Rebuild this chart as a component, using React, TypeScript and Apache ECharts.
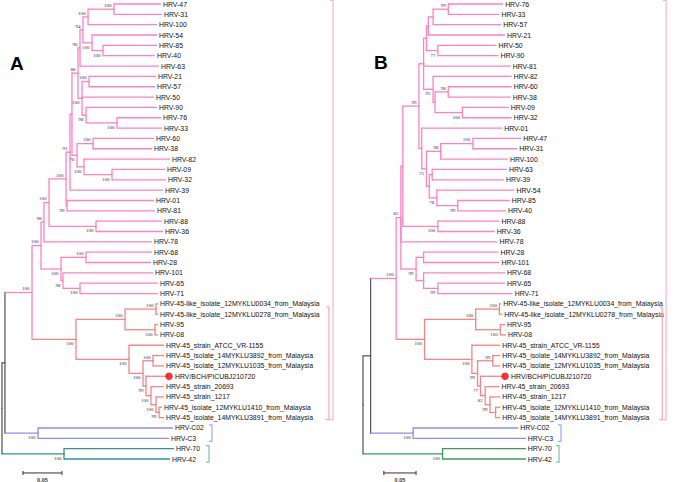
import React, { useEffect, useRef } from "react";
import * as echarts from "echarts";

// [node id, parent id, distance from root (substitutions/site), bootstrap support, clade group]
type NodeRow = [string, string, number, number?, string?];

const L0034 = "HRV-45-like_isolate_12MYKLU0034_from_Malaysia";
const L0278 = "HRV-45-like_isolate_12MYKLU0278_from_Malaysia";
const LATCC = "HRV-45_strain_ATCC_VR-1155";
const L3892 = "HRV-45_isolate_14MYKLU3892_from_Malaysia";
const L1035 = "HRV-45_isolate_12MYKLU1035_from_Malaysia";
const LBCH = "HRV/BCH/PICUBJ210720";
const L20693 = "HRV-45_strain_20693";
const L1217 = "HRV-45_strain_1217";
const L1410 = "HRV-45_isolate_12MYKLU1410_from_Malaysia";
const L3891 = "HRV-45_isolate_14MYKLU3891_from_Malaysia";

const treeA: NodeRow[] = [
  ["#root", "", 0, 0, "r"],
  ["#n5", "#root", 0.0038, 0, "r"],
  ["#P0", "#n5", 0.0385, 100, "p"],
  ["#q", "#P0", 0.05, 100],
  ["#p", "#q", 0.0538, 98],
  ["#k", "#p", 0.0603, 100],
  ["#o", "#k", 0.0821, 100],
  ["#n", "#o", 0.0872, 91],
  ["#m", "#n", 0.0897, 0],
  ["#g", "#m", 0.0974, 88],
  ["#d", "#g", 0.1, 96],
  ["#c", "#d", 0.1038, 94],
  ["#a", "#c", 0.1103, 100],
  ["#4731", "#a", 0.1436, 100],
  ["HRV-47", "#4731", 0.2038],
  ["HRV-31", "#4731", 0.2051],
  ["HRV-100", "#a", 0.1987],
  ["#b", "#c", 0.1154, 100],
  ["HRV-54", "#b", 0.1987],
  ["#8540", "#b", 0.1295, 100],
  ["HRV-85", "#8540", 0.1987],
  ["HRV-40", "#8540", 0.1962],
  ["HRV-63", "#d", 0.2013],
  ["#f", "#g", 0.1026, 100],
  ["#2157", "#f", 0.1115, 100],
  ["HRV-21", "#2157", 0.1974],
  ["HRV-57", "#2157", 0.1962],
  ["HRV-50", "#f", 0.1949],
  ["#e", "#f", 0.1077, 98],
  ["HRV-90", "#e", 0.1987],
  ["#7633", "#e", 0.1474, 100],
  ["HRV-76", "#7633", 0.2038],
  ["HRV-33", "#7633", 0.2051],
  ["#h", "#m", 0.0962, 76],
  ["#6038", "#h", 0.1167, 100],
  ["HRV-60", "#6038", 0.1949],
  ["HRV-38", "#6038", 0.1923],
  ["#i", "#h", 0.1051, 100],
  ["HRV-82", "#i", 0.2154],
  ["#0932", "#i", 0.141, 100],
  ["HRV-09", "#0932", 0.209],
  ["HRV-32", "#0932", 0.2103],
  ["HRV-39", "#n", 0.2064],
  ["#0181", "#o", 0.0833, 99],
  ["HRV-01", "#0181", 0.1949],
  ["HRV-81", "#0181", 0.1962],
  ["#8836", "#k", 0.1205, 100],
  ["HRV-88", "#8836", 0.2051],
  ["HRV-36", "#8836", 0.2064],
  ["HRV-78", "#p", 0.1923],
  ["#t", "#q", 0.0756, 100],
  ["#6828", "#t", 0.1077, 100],
  ["HRV-68", "#6828", 0.1923],
  ["HRV-28", "#6828", 0.191],
  ["#s", "#t", 0.0782, 98],
  ["HRV-101", "#s", 0.1936],
  ["#6571", "#s", 0.1, 100],
  ["HRV-65", "#6571", 0.2],
  ["HRV-71", "#6571", 0.2],
  ["#x", "#P0", 0.0949, 100, "s"],
  ["#u", "#x", 0.1577, 100],
  ["#0034", "#u", 0.1974, 100],
  [L0034, "#0034", 0.2],
  [L0278, "#0034", 0.2],
  ["#9508", "#u", 0.1962, 100],
  ["HRV-95", "#9508", 0.2],
  ["HRV-08", "#9508", 0.2],
  ["#v", "#x", 0.1628, 100],
  [LATCC, "#v", 0.2077],
  ["#w5", "#v", 0.1808, 100],
  ["#3892", "#w5", 0.1936, 100],
  [L3892, "#3892", 0.2077],
  [L1035, "#3892", 0.2077],
  ["#w4", "#w5", 0.1846, 99],
  [LBCH, "#w4", 0.2141],
  ["#w3", "#w4", 0.191, 100],
  [L20693, "#w3", 0.2077],
  ["#w2", "#w3", 0.1974, 100],
  [L1217, "#w2", 0.2077],
  ["#w1", "#w2", 0.2013, 99],
  [L1410, "#w1", 0.2051],
  [L3891, "#w1", 0.2077],
  ["#C", "#n5", 0.0462, 100, "b"],
  ["HRV-C02", "#C", 0.2192],
  ["HRV-C3", "#C", 0.2141],
  ["#7042", "#root", 0.0795, 100, "t"],
  ["HRV-70", "#7042", 0.2205],
  ["HRV-42", "#7042", 0.2154],
];

const treeB: NodeRow[] = [
  ["#root", "", 0, 0, "r"],
  ["#n5", "#root", 0.0118, 0, "r"],
  ["#P0", "#n5", 0.0515, 100, "p"],
  ["#B8", "#P0", 0.0588, 82],
  ["#B7", "#B8", 0.0618, 0],
  ["#B5", "#B7", 0.0868, 99],
  ["#B2", "#B5", 0.0941, 0],
  ["#B1", "#B2", 0.0985, 0],
  ["#B1a", "#B1", 0.1015, 0],
  ["#763357", "#B1a", 0.1088, 0],
  ["#7633", "#763357", 0.1324, 99],
  ["HRV-76", "#7633", 0.2176],
  ["HRV-33", "#7633", 0.2118],
  ["HRV-57", "#763357", 0.2147],
  ["HRV-21", "#B1a", 0.2206],
  ["#5090", "#B1", 0.1162, 77],
  ["HRV-50", "#5090", 0.2074],
  ["HRV-90", "#5090", 0.2103],
  ["HRV-81", "#B2", 0.2294],
  ["#B3", "#B2", 0.1088, 93],
  ["HRV-82", "#B3", 0.2309],
  ["#B4", "#B3", 0.1118, 0],
  ["#6038", "#B4", 0.1324, 98],
  ["HRV-60", "#6038", 0.2309],
  ["HRV-38", "#6038", 0.2294],
  ["#0932", "#B4", 0.1544, 100],
  ["HRV-09", "#0932", 0.2265],
  ["HRV-32", "#0932", 0.2309],
  ["#B6", "#B5", 0.0912, 0],
  ["HRV-01", "#B6", 0.2162],
  ["#75", "#B6", 0.0985, 75],
  ["#47311", "#75", 0.1206, 98],
  ["#4731", "#47311", 0.1706, 100],
  ["HRV-47", "#4731", 0.2456],
  ["HRV-31", "#4731", 0.2397],
  ["HRV-100", "#47311", 0.225],
  ["#6354", "#75", 0.1029, 0],
  ["#6339", "#6354", 0.1074, 0],
  ["HRV-63", "#6339", 0.2235],
  ["HRV-39", "#6339", 0.2191],
  ["#548540", "#6354", 0.1147, 78],
  ["HRV-54", "#548540", 0.2353],
  ["#8540", "#548540", 0.1471, 99],
  ["HRV-85", "#8540", 0.2279],
  ["HRV-40", "#8540", 0.2221],
  ["#8836", "#B7", 0.1162, 100],
  ["HRV-88", "#8836", 0.2118],
  ["HRV-36", "#8836", 0.2044],
  ["HRV-78", "#B8", 0.2088],
  ["#low", "#B8", 0.0824, 99],
  ["#28101", "#low", 0.0941, 0],
  ["HRV-28", "#28101", 0.2103],
  ["HRV-101", "#28101", 0.2118],
  ["#686571", "#low", 0.0941, 0],
  ["HRV-68", "#686571", 0.2206],
  ["#6571", "#686571", 0.1162, 99],
  ["HRV-65", "#6571", 0.2206],
  ["HRV-71", "#6571", 0.2324],
  ["#x", "#P0", 0.0956, 100, "s"],
  ["#u", "#x", 0.175, 100],
  ["#0034", "#u", 0.2118, 100],
  [L0034, "#0034", 0.2147],
  [L0278, "#0034", 0.2162],
  ["#9508", "#u", 0.2132, 100],
  ["HRV-95", "#9508", 0.2206],
  ["HRV-08", "#9508", 0.2221],
  ["#v", "#x", 0.1691, 100],
  [LATCC, "#v", 0.2132],
  ["#w5", "#v", 0.1779, 99],
  ["#3892", "#w5", 0.2015, 99],
  [L3892, "#3892", 0.2132],
  [L1035, "#3892", 0.2132],
  ["#w4", "#w5", 0.1824, 77],
  [LBCH, "#w4", 0.2206],
  ["#w3", "#w4", 0.1897, 82],
  [L20693, "#w3", 0.2118],
  ["#w2", "#w3", 0.1971, 99],
  [L1217, "#w2", 0.2132],
  ["#w1", "#w2", 0.2059, 0],
  [L1410, "#w1", 0.2132],
  [L3891, "#w1", 0.2132],
  ["#C", "#n5", 0.0779, 100, "b"],
  ["HRV-C02", "#C", 0.2412],
  ["HRV-C3", "#C", 0.2529],
  ["#7042", "#root", 0.1235, 100, "g"],
  ["HRV-70", "#7042", 0.2529],
  ["HRV-42", "#7042", 0.2529],
];

const highlightLeaf = LBCH;
const scaleBarLength = 0.05;
const scaleBarLabel = "0.05";
const panelLetters = ["A", "B"];

// clade brackets: [group, first row, last row]
const bracketRows: [string, number, number][] = [
  ["p", -0.35, 40.2],
  ["s", 29.3, 40.2],
  ["b", 40.7, 42.3],
  ["t", 42.7, 44.3],
];

// ---------- styling / layout ----------
const COLORS: Record<string, string> = {
  r: "#5c5c5c",
  p: "#ff82c4",
  s: "#f38686",
  b: "#8c8cf3",
  t: "#339494",
  g: "#389a5b",
};
const BRACKET_COLORS: Record<string, string> = {
  p: "#f9b5d8",
  s: "#f5a8a8",
  b: "#a6a6f5",
  t: "#7cc0c0",
  g: "#80c69a",
};

type TNode = {
  id: string;
  parent: string;
  depth: number;
  support: number;
  group: string;
  y: number;
  leaf: boolean;
  kids: string[];
};

function buildTree(rows: NodeRow[]) {
  const info = new Map<string, TNode>();
  const order: string[] = [];
  rows.forEach(([id, parent, depth, support, group]) => {
    const g = group ?? (parent ? info.get(parent)!.group : "r");
    info.set(id, { id, parent, depth, support: support ?? 0, group: g, y: 0, leaf: true, kids: [] });
    if (parent) {
      const p = info.get(parent)!;
      p.leaf = false;
      p.kids.push(id);
    }
    order.push(id);
  });
  let row = 0;
  order.forEach((id) => {
    const n = info.get(id)!;
    if (n.leaf) n.y = row++;
  });
  for (let i = order.length - 1; i >= 0; i--) {
    const n = info.get(order[i])!;
    if (!n.leaf) {
      const f = info.get(n.kids[0])!;
      const l = info.get(n.kids[n.kids.length - 1])!;
      n.y = (f.y + l.y) / 2;
    }
  }
  const edges: { px: number; py: number; cx: number; cy: number; vg: string; hg: string }[] = [];
  const leaves: TNode[] = [];
  const supports: { x: number; y: number; v: number; upper: boolean }[] = [];
  order.forEach((id) => {
    const n = info.get(id)!;
    if (n.parent) {
      const p = info.get(n.parent)!;
      edges.push({ px: p.depth, py: p.y, cx: n.depth, cy: n.y, vg: p.group, hg: n.group });
      if (!n.leaf && n.support > 0) {
        const isLast = p.kids[p.kids.length - 1] === id;
        supports.push({ x: n.depth, y: n.y, v: n.support, upper: !isLast });
      }
    }
    if (n.leaf) leaves.push(n);
  });
  return { edges, leaves, supports, rows: row };
}

type Panel = {
  tree: NodeRow[];
  grid: { left: number; top: number; width: number; height: number };
  xMax: number;
  scaleStart: number;
  scaleRow: number;
  bracketX: number[]; // x of each bracket, distance units
  greenGroup: string;
};

const panels: Panel[] = [
  {
    tree: treeA,
    grid: { left: 2, top: 4, width: 390, height: 455 },
    xMax: 0.5,
    scaleStart: 0.0269,
    scaleRow: 45.35,
    bracketX: [0.4244, 0.4192, 0.2692, 0.2654],
    greenGroup: "t",
  },
  {
    tree: treeB,
    grid: { left: 363, top: 4, width: 340, height: 455 },
    xMax: 0.5,
    scaleStart: 0.0324,
    scaleRow: 45.35,
    bracketX: [0.4706, 0.4647, 0.3074, 0.3044],
    greenGroup: "g",
  },
];

function buildOption() {
  const grid: any[] = [];
  const xAxis: any[] = [];
  const yAxis: any[] = [];
  const series: any[] = [];

  panels.forEach((panel, idx) => {
    const t = buildTree(panel.tree);
    grid.push({ ...panel.grid, containLabel: false });
    xAxis.push({ gridIndex: idx, type: "value", min: 0, max: panel.xMax, show: false });
    yAxis.push({ gridIndex: idx, type: "value", min: 0, max: t.rows - 1, inverse: true, show: false });

    // branches
    series.push({
      type: "custom",
      xAxisIndex: idx,
      yAxisIndex: idx,
      silent: true,
      clip: false,
      data: t.edges.map((e) => [e.px, e.py, e.cx, e.cy]),
      renderItem: (params: any, api: any) => {
        const e = t.edges[params.dataIndex];
        const a = api.coord([api.value(0), api.value(1)]);
        const b = api.coord([api.value(0), api.value(3)]);
        const c = api.coord([api.value(2), api.value(3)]);
        return {
          type: "group",
          children: [
            {
              type: "line",
              shape: { x1: a[0], y1: a[1], x2: b[0], y2: b[1] },
              style: { stroke: COLORS[e.vg], lineWidth: 1.3, lineCap: "square" },
            },
            {
              type: "line",
              shape: { x1: b[0], y1: b[1], x2: c[0], y2: c[1] },
              style: { stroke: COLORS[e.hg], lineWidth: 1.3 },
            },
          ],
        };
      },
    });

    // leaf labels
    series.push({
      type: "custom",
      xAxisIndex: idx,
      yAxisIndex: idx,
      silent: true,
      clip: false,
      data: t.leaves.map((l) => [l.depth, l.y]),
      renderItem: (params: any, api: any) => {
        const l = t.leaves[params.dataIndex];
        const p = api.coord([api.value(0), api.value(1)]);
        return {
          type: "text",
          x: p[0] + (l.id === highlightLeaf ? 6 : 2),
          y: p[1],
          style: {
            text: l.id,
            fill: "#111111",
            fontSize: 6.9,
            fontFamily: "Liberation Sans",
            align: "left",
            verticalAlign: "middle",
          },
        };
      },
    });

    // bootstrap values
    series.push({
      type: "custom",
      xAxisIndex: idx,
      yAxisIndex: idx,
      silent: true,
      clip: false,
      data: t.supports.map((s) => [s.x, s.y, s.v]),
      renderItem: (params: any, api: any) => {
        const s = t.supports[params.dataIndex];
        const p = api.coord([api.value(0), api.value(1)]);
        return {
          type: "text",
          x: p[0] - 2.5,
          y: s.upper ? p[1] - 1.2 : p[1] + 2,
          style: {
            text: String(api.value(2)),
            fill: "#333333",
            fontSize: 5,
            fontFamily: "Liberation Serif",
            align: "right",
            verticalAlign: s.upper ? "bottom" : "top",
          },
        };
      },
    });

    // highlighted sample
    const hl = t.leaves.find((l) => l.id === highlightLeaf)!;
    series.push({
      type: "scatter",
      xAxisIndex: idx,
      yAxisIndex: idx,
      silent: true,
      symbol: "circle",
      symbolSize: 7.5,
      itemStyle: { color: "#ff0000" },
      data: [[hl.depth, hl.y]],
      z: 5,
    });

    // scale bar
    series.push({
      type: "custom",
      xAxisIndex: idx,
      yAxisIndex: idx,
      silent: true,
      clip: false,
      data: [[panel.scaleStart, panel.scaleRow, scaleBarLength]],
      renderItem: (params: any, api: any) => {
        const a = api.coord([api.value(0), api.value(1)]);
        const b = api.coord([api.value(0) + api.value(2), api.value(1)]);
        const st = { stroke: "#333", lineWidth: 1 };
        return {
          type: "group",
          children: [
            { type: "line", shape: { x1: a[0], y1: a[1], x2: b[0], y2: b[1] }, style: st },
            { type: "line", shape: { x1: a[0], y1: a[1] - 2, x2: a[0], y2: a[1] + 2 }, style: st },
            { type: "line", shape: { x1: b[0], y1: b[1] - 2, x2: b[0], y2: b[1] + 2 }, style: st },
            {
              type: "text",
              x: (a[0] + b[0]) / 2,
              y: a[1] + 4,
              style: {
                text: scaleBarLabel,
                fill: "#333",
                fontSize: 5.5,
                fontWeight: "bold",
                fontFamily: "Liberation Sans",
                align: "center",
                verticalAlign: "top",
              },
            },
          ],
        };
      },
    });

    // clade brackets
    series.push({
      type: "custom",
      xAxisIndex: idx,
      yAxisIndex: idx,
      silent: true,
      clip: false,
      data: bracketRows.map((b, i) => [panel.bracketX[i], b[1], b[2]]),
      renderItem: (params: any, api: any) => {
        const g0 = bracketRows[params.dataIndex][0];
        const g = g0 === "t" ? panel.greenGroup : g0;
        const a = api.coord([api.value(0), api.value(1)]);
        const b = api.coord([api.value(0), api.value(2)]);
        return {
          type: "polyline",
          shape: {
            points: [
              [a[0] - 3, a[1]],
              [a[0], a[1]],
              [b[0], b[1]],
              [b[0] - 3, b[1]],
            ],
          },
          style: { stroke: BRACKET_COLORS[g], lineWidth: 1.2, fill: "none" },
        };
      },
    });
  });

  return {
    animation: false,
    backgroundColor: "#ffffff",
    grid,
    xAxis,
    yAxis,
    series,
    graphic: [
      {
        type: "text",
        left: 10,
        top: 54,
        style: { text: panelLetters[0], fontSize: 19, fontWeight: "bold", fontFamily: "Liberation Sans", fill: "#000" },
      },
      {
        type: "text",
        left: 374,
        top: 53,
        style: { text: panelLetters[1], fontSize: 19, fontWeight: "bold", fontFamily: "Liberation Sans", fill: "#000" },
      },
    ],
  };
}

export default function App() {
  const ref = useRef<HTMLDivElement>(null);
  useEffect(() => {
    const chart = echarts.init(ref.current!, null, { renderer: "svg" });
    chart.setOption(buildOption() as any);
    return () => chart.dispose();
  }, []);
  return (
    <div
      ref={ref}
      style={{ position: "absolute", left: 0, top: 0, width: 685, height: 482, background: "#fff" }}
    />
  );
}
